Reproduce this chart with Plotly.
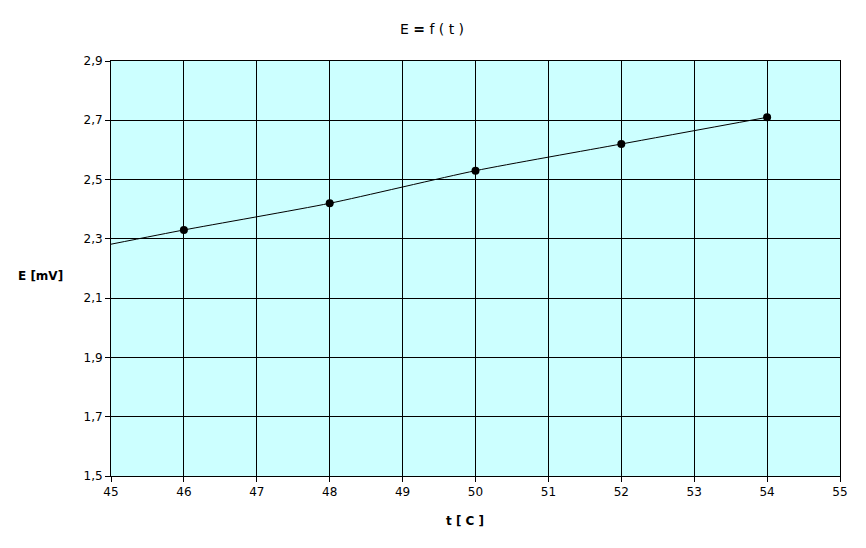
import plotly.graph_objects as go

t_values = [46, 48, 50, 52, 54]
e_values = [2.33, 2.42, 2.53, 2.62, 2.71]
curve_t = [45, 46, 48, 50, 52, 54]
curve_e = [2.282, 2.33, 2.42, 2.53, 2.62, 2.71]
x_ticks = [45, 46, 47, 48, 49, 50, 51, 52, 53, 54, 55]
y_ticks = [1.5, 1.7, 1.9, 2.1, 2.3, 2.5, 2.7, 2.9]
y_tick_labels = ["1,5", "1,7", "1,9", "2,1", "2,3", "2,5", "2,7", "2,9"]

# page body has an 8px default margin, so offset everything accordingly
OFF = 8
W, H = 866 - OFF, 548 - OFF
L, T = 111 - OFF, 61 - OFF
PW, PH = 840 - 111, 476 - 61
R = W - L - PW
B = H - T - PH

fig = go.Figure()
fig.add_trace(go.Scatter(x=curve_t, y=curve_e, mode="lines",
                         line=dict(color="black", width=1, shape="spline", smoothing=0.6),
                         showlegend=False, hoverinfo="skip"))
fig.add_trace(go.Scatter(x=t_values, y=e_values, mode="markers",
                         marker=dict(color="black", size=8), showlegend=False))

fig.update_layout(
    width=W, height=H,
    margin=dict(l=L, r=R, t=T, b=B),
    paper_bgcolor="white", plot_bgcolor="#CCFFFF",
    font=dict(family="DejaVu Sans", size=12, color="black"),
    title=dict(text="E <b>=</b> f ( t )", x=(432 - OFF) / W, xanchor="center",
               y=1 - (29 - OFF) / H, yanchor="middle",
               font=dict(family="DejaVu Sans", size=14, color="black")),
    xaxis=dict(range=[45, 55], tickvals=x_ticks, ticktext=[str(v) for v in x_ticks],
               showgrid=True, gridcolor="black", gridwidth=1, zeroline=False,
               showline=True, linecolor="black", linewidth=1, mirror=True,
               ticks="outside", ticklen=5, tickcolor="black",
               tickfont=dict(size=12)),
    yaxis=dict(range=[1.5, 2.9], tickvals=y_ticks, ticktext=y_tick_labels,
               showgrid=True, gridcolor="black", gridwidth=1, zeroline=False,
               showline=True, linecolor="black", linewidth=1, mirror=True,
               ticks="outside", ticklen=5, tickcolor="black",
               tickfont=dict(size=12)),
)
fig.add_annotation(text="<b>t [ C ]</b>", xref="paper", yref="paper",
                   x=(465 - 111) / PW, y=(476 - 521) / PH, xanchor="center", yanchor="middle",
                   showarrow=False, font=dict(size=12))
fig.add_annotation(text="<b>E [mV]</b>", xref="paper", yref="paper",
                   x=(40 - 111) / PW, y=(476 - 276) / PH, xanchor="center", yanchor="middle",
                   showarrow=False, font=dict(size=12))

fig.write_html("out.html")
